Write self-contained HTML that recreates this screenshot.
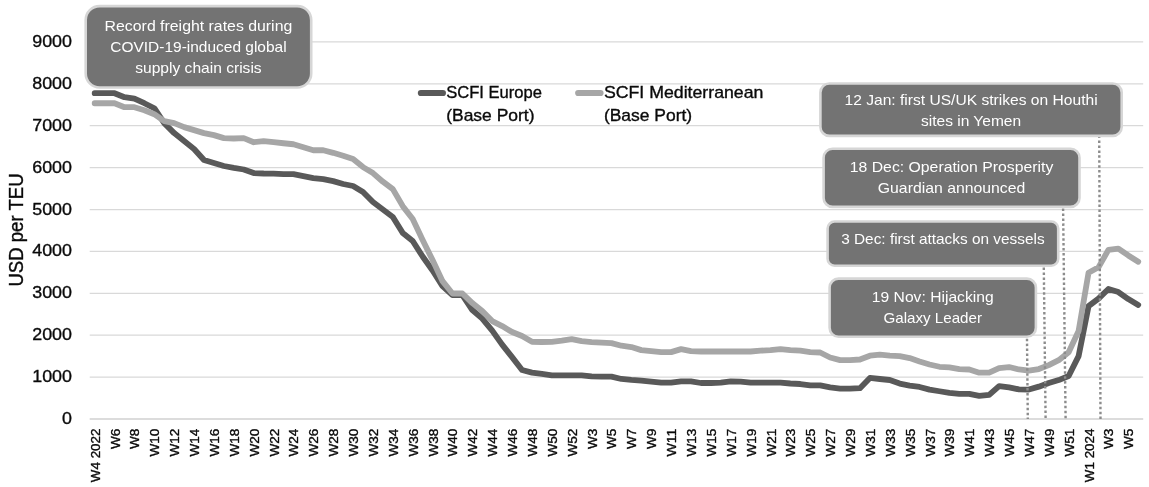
<!DOCTYPE html>
<html lang="en"><head><meta charset="utf-8"><title>SCFI freight rates</title>
<style>html,body{margin:0;padding:0;background:#fff}svg{display:block}text{font-family:"Liberation Sans",sans-serif;}.k{stroke:#0a0a0a;stroke-width:.35px}.w{stroke:#fff;stroke-width:.15px}</style></head><body>
<svg width="1149" height="487" viewBox="0 0 1149 487">
<rect width="1149" height="487" fill="#fff"/>
<line x1="89.7" x2="1143.2" y1="377.06" y2="377.06" stroke="#d9d9d9" stroke-width="1.25"/>
<line x1="89.7" x2="1143.2" y1="335.17" y2="335.17" stroke="#d9d9d9" stroke-width="1.25"/>
<line x1="89.7" x2="1143.2" y1="293.28" y2="293.28" stroke="#d9d9d9" stroke-width="1.25"/>
<line x1="89.7" x2="1143.2" y1="251.39" y2="251.39" stroke="#d9d9d9" stroke-width="1.25"/>
<line x1="89.7" x2="1143.2" y1="209.51" y2="209.51" stroke="#d9d9d9" stroke-width="1.25"/>
<line x1="89.7" x2="1143.2" y1="167.62" y2="167.62" stroke="#d9d9d9" stroke-width="1.25"/>
<line x1="89.7" x2="1143.2" y1="125.73" y2="125.73" stroke="#d9d9d9" stroke-width="1.25"/>
<line x1="89.7" x2="1143.2" y1="83.84" y2="83.84" stroke="#d9d9d9" stroke-width="1.25"/>
<line x1="89.7" x2="1143.2" y1="41.95" y2="41.95" stroke="#d9d9d9" stroke-width="1.25"/>
<line x1="89.7" x2="1143.2" y1="418.95" y2="418.95" stroke="#d0d0d0" stroke-width="1.6"/>
<text x="62.07" y="424.05" class="k" font-size="17.4" fill="#0a0a0a" textLength="9.93" lengthAdjust="spacingAndGlyphs">0</text>
<text x="32.26" y="382.16" class="k" font-size="17.4" fill="#0a0a0a" textLength="39.74" lengthAdjust="spacingAndGlyphs">1000</text>
<text x="32.26" y="340.27" class="k" font-size="17.4" fill="#0a0a0a" textLength="39.74" lengthAdjust="spacingAndGlyphs">2000</text>
<text x="32.26" y="298.38" class="k" font-size="17.4" fill="#0a0a0a" textLength="39.74" lengthAdjust="spacingAndGlyphs">3000</text>
<text x="32.26" y="256.49" class="k" font-size="17.4" fill="#0a0a0a" textLength="39.74" lengthAdjust="spacingAndGlyphs">4000</text>
<text x="32.26" y="214.61" class="k" font-size="17.4" fill="#0a0a0a" textLength="39.74" lengthAdjust="spacingAndGlyphs">5000</text>
<text x="32.26" y="172.72" class="k" font-size="17.4" fill="#0a0a0a" textLength="39.74" lengthAdjust="spacingAndGlyphs">6000</text>
<text x="32.26" y="130.83" class="k" font-size="17.4" fill="#0a0a0a" textLength="39.74" lengthAdjust="spacingAndGlyphs">7000</text>
<text x="32.26" y="88.94" class="k" font-size="17.4" fill="#0a0a0a" textLength="39.74" lengthAdjust="spacingAndGlyphs">8000</text>
<text x="32.26" y="47.05" class="k" font-size="17.4" fill="#0a0a0a" textLength="39.74" lengthAdjust="spacingAndGlyphs">9000</text>
<text transform="translate(23 286.6) rotate(-90)" class="k" font-size="19.3" fill="#0a0a0a" textLength="113.2" lengthAdjust="spacingAndGlyphs">USD per TEU</text>
<text transform="translate(99.67 482.15) rotate(-90)" class="k" font-size="13.2" fill="#0a0a0a" textLength="53.55" lengthAdjust="spacingAndGlyphs">W4 2022</text>
<text transform="translate(119.55 449.09) rotate(-90)" class="k" font-size="13.2" fill="#0a0a0a" textLength="20.49" lengthAdjust="spacingAndGlyphs">W6</text>
<text transform="translate(139.42 449.09) rotate(-90)" class="k" font-size="13.2" fill="#0a0a0a" textLength="20.49" lengthAdjust="spacingAndGlyphs">W8</text>
<text transform="translate(159.30 456.52) rotate(-90)" class="k" font-size="13.2" fill="#0a0a0a" textLength="27.92" lengthAdjust="spacingAndGlyphs">W10</text>
<text transform="translate(179.18 456.52) rotate(-90)" class="k" font-size="13.2" fill="#0a0a0a" textLength="27.92" lengthAdjust="spacingAndGlyphs">W12</text>
<text transform="translate(199.06 456.52) rotate(-90)" class="k" font-size="13.2" fill="#0a0a0a" textLength="27.92" lengthAdjust="spacingAndGlyphs">W14</text>
<text transform="translate(218.93 456.52) rotate(-90)" class="k" font-size="13.2" fill="#0a0a0a" textLength="27.92" lengthAdjust="spacingAndGlyphs">W16</text>
<text transform="translate(238.81 456.52) rotate(-90)" class="k" font-size="13.2" fill="#0a0a0a" textLength="27.92" lengthAdjust="spacingAndGlyphs">W18</text>
<text transform="translate(258.69 456.52) rotate(-90)" class="k" font-size="13.2" fill="#0a0a0a" textLength="27.92" lengthAdjust="spacingAndGlyphs">W20</text>
<text transform="translate(278.57 456.52) rotate(-90)" class="k" font-size="13.2" fill="#0a0a0a" textLength="27.92" lengthAdjust="spacingAndGlyphs">W22</text>
<text transform="translate(298.44 456.52) rotate(-90)" class="k" font-size="13.2" fill="#0a0a0a" textLength="27.92" lengthAdjust="spacingAndGlyphs">W24</text>
<text transform="translate(318.32 456.52) rotate(-90)" class="k" font-size="13.2" fill="#0a0a0a" textLength="27.92" lengthAdjust="spacingAndGlyphs">W26</text>
<text transform="translate(338.20 456.52) rotate(-90)" class="k" font-size="13.2" fill="#0a0a0a" textLength="27.92" lengthAdjust="spacingAndGlyphs">W28</text>
<text transform="translate(358.07 456.52) rotate(-90)" class="k" font-size="13.2" fill="#0a0a0a" textLength="27.92" lengthAdjust="spacingAndGlyphs">W30</text>
<text transform="translate(377.95 456.52) rotate(-90)" class="k" font-size="13.2" fill="#0a0a0a" textLength="27.92" lengthAdjust="spacingAndGlyphs">W32</text>
<text transform="translate(397.83 456.52) rotate(-90)" class="k" font-size="13.2" fill="#0a0a0a" textLength="27.92" lengthAdjust="spacingAndGlyphs">W34</text>
<text transform="translate(417.71 456.52) rotate(-90)" class="k" font-size="13.2" fill="#0a0a0a" textLength="27.92" lengthAdjust="spacingAndGlyphs">W36</text>
<text transform="translate(437.58 456.52) rotate(-90)" class="k" font-size="13.2" fill="#0a0a0a" textLength="27.92" lengthAdjust="spacingAndGlyphs">W38</text>
<text transform="translate(457.46 456.52) rotate(-90)" class="k" font-size="13.2" fill="#0a0a0a" textLength="27.92" lengthAdjust="spacingAndGlyphs">W40</text>
<text transform="translate(477.34 456.52) rotate(-90)" class="k" font-size="13.2" fill="#0a0a0a" textLength="27.92" lengthAdjust="spacingAndGlyphs">W42</text>
<text transform="translate(497.22 456.52) rotate(-90)" class="k" font-size="13.2" fill="#0a0a0a" textLength="27.92" lengthAdjust="spacingAndGlyphs">W44</text>
<text transform="translate(517.09 456.52) rotate(-90)" class="k" font-size="13.2" fill="#0a0a0a" textLength="27.92" lengthAdjust="spacingAndGlyphs">W46</text>
<text transform="translate(536.97 456.52) rotate(-90)" class="k" font-size="13.2" fill="#0a0a0a" textLength="27.92" lengthAdjust="spacingAndGlyphs">W48</text>
<text transform="translate(556.85 456.52) rotate(-90)" class="k" font-size="13.2" fill="#0a0a0a" textLength="27.92" lengthAdjust="spacingAndGlyphs">W50</text>
<text transform="translate(576.73 456.52) rotate(-90)" class="k" font-size="13.2" fill="#0a0a0a" textLength="27.92" lengthAdjust="spacingAndGlyphs">W52</text>
<text transform="translate(596.60 449.09) rotate(-90)" class="k" font-size="13.2" fill="#0a0a0a" textLength="20.49" lengthAdjust="spacingAndGlyphs">W3</text>
<text transform="translate(616.48 449.09) rotate(-90)" class="k" font-size="13.2" fill="#0a0a0a" textLength="20.49" lengthAdjust="spacingAndGlyphs">W5</text>
<text transform="translate(636.36 449.09) rotate(-90)" class="k" font-size="13.2" fill="#0a0a0a" textLength="20.49" lengthAdjust="spacingAndGlyphs">W7</text>
<text transform="translate(656.24 449.09) rotate(-90)" class="k" font-size="13.2" fill="#0a0a0a" textLength="20.49" lengthAdjust="spacingAndGlyphs">W9</text>
<text transform="translate(676.11 456.52) rotate(-90)" class="k" font-size="13.2" fill="#0a0a0a" textLength="27.92" lengthAdjust="spacingAndGlyphs">W11</text>
<text transform="translate(695.99 456.52) rotate(-90)" class="k" font-size="13.2" fill="#0a0a0a" textLength="27.92" lengthAdjust="spacingAndGlyphs">W13</text>
<text transform="translate(715.87 456.52) rotate(-90)" class="k" font-size="13.2" fill="#0a0a0a" textLength="27.92" lengthAdjust="spacingAndGlyphs">W15</text>
<text transform="translate(735.74 456.52) rotate(-90)" class="k" font-size="13.2" fill="#0a0a0a" textLength="27.92" lengthAdjust="spacingAndGlyphs">W17</text>
<text transform="translate(755.62 456.52) rotate(-90)" class="k" font-size="13.2" fill="#0a0a0a" textLength="27.92" lengthAdjust="spacingAndGlyphs">W19</text>
<text transform="translate(775.50 456.52) rotate(-90)" class="k" font-size="13.2" fill="#0a0a0a" textLength="27.92" lengthAdjust="spacingAndGlyphs">W21</text>
<text transform="translate(795.38 456.52) rotate(-90)" class="k" font-size="13.2" fill="#0a0a0a" textLength="27.92" lengthAdjust="spacingAndGlyphs">W23</text>
<text transform="translate(815.25 456.52) rotate(-90)" class="k" font-size="13.2" fill="#0a0a0a" textLength="27.92" lengthAdjust="spacingAndGlyphs">W25</text>
<text transform="translate(835.13 456.52) rotate(-90)" class="k" font-size="13.2" fill="#0a0a0a" textLength="27.92" lengthAdjust="spacingAndGlyphs">W27</text>
<text transform="translate(855.01 456.52) rotate(-90)" class="k" font-size="13.2" fill="#0a0a0a" textLength="27.92" lengthAdjust="spacingAndGlyphs">W29</text>
<text transform="translate(874.89 456.52) rotate(-90)" class="k" font-size="13.2" fill="#0a0a0a" textLength="27.92" lengthAdjust="spacingAndGlyphs">W31</text>
<text transform="translate(894.76 456.52) rotate(-90)" class="k" font-size="13.2" fill="#0a0a0a" textLength="27.92" lengthAdjust="spacingAndGlyphs">W33</text>
<text transform="translate(914.64 456.52) rotate(-90)" class="k" font-size="13.2" fill="#0a0a0a" textLength="27.92" lengthAdjust="spacingAndGlyphs">W35</text>
<text transform="translate(934.52 456.52) rotate(-90)" class="k" font-size="13.2" fill="#0a0a0a" textLength="27.92" lengthAdjust="spacingAndGlyphs">W37</text>
<text transform="translate(954.40 456.52) rotate(-90)" class="k" font-size="13.2" fill="#0a0a0a" textLength="27.92" lengthAdjust="spacingAndGlyphs">W39</text>
<text transform="translate(974.27 456.52) rotate(-90)" class="k" font-size="13.2" fill="#0a0a0a" textLength="27.92" lengthAdjust="spacingAndGlyphs">W41</text>
<text transform="translate(994.15 456.52) rotate(-90)" class="k" font-size="13.2" fill="#0a0a0a" textLength="27.92" lengthAdjust="spacingAndGlyphs">W43</text>
<text transform="translate(1014.03 456.52) rotate(-90)" class="k" font-size="13.2" fill="#0a0a0a" textLength="27.92" lengthAdjust="spacingAndGlyphs">W45</text>
<text transform="translate(1033.91 456.52) rotate(-90)" class="k" font-size="13.2" fill="#0a0a0a" textLength="27.92" lengthAdjust="spacingAndGlyphs">W47</text>
<text transform="translate(1053.78 456.52) rotate(-90)" class="k" font-size="13.2" fill="#0a0a0a" textLength="27.92" lengthAdjust="spacingAndGlyphs">W49</text>
<text transform="translate(1073.66 456.52) rotate(-90)" class="k" font-size="13.2" fill="#0a0a0a" textLength="27.92" lengthAdjust="spacingAndGlyphs">W51</text>
<text transform="translate(1093.54 482.15) rotate(-90)" class="k" font-size="13.2" fill="#0a0a0a" textLength="53.55" lengthAdjust="spacingAndGlyphs">W1 2024</text>
<text transform="translate(1113.41 449.09) rotate(-90)" class="k" font-size="13.2" fill="#0a0a0a" textLength="20.49" lengthAdjust="spacingAndGlyphs">W3</text>
<text transform="translate(1133.29 449.09) rotate(-90)" class="k" font-size="13.2" fill="#0a0a0a" textLength="20.49" lengthAdjust="spacingAndGlyphs">W5</text>
<path d="M94.67 93.22 L104.61 93.22 L114.55 93.22 L124.49 97.24 L134.42 98.67 L144.36 103.23 L154.30 108.22 L164.24 123.13 L174.18 133.10 L184.12 141.10 L194.06 149.06 L203.99 160.03 L213.93 163.01 L223.87 166.02 L233.81 167.91 L243.75 169.50 L253.69 173.10 L263.63 173.52 L273.57 173.69 L283.50 174.11 L293.44 174.11 L303.38 176.12 L313.32 178.13 L323.26 179.09 L333.20 181.10 L343.14 184.00 L353.07 186.01 L363.01 192.00 L372.95 202.01 L382.89 209.51 L392.83 217.05 L402.77 233.05 L412.71 241.01 L422.65 256.55 L432.58 270.45 L442.52 286.08 L452.46 295.08 L462.40 295.08 L472.34 310.04 L482.28 318.63 L492.22 330.56 L502.16 344.60 L512.09 357.08 L522.03 369.98 L531.97 372.58 L541.91 373.96 L551.85 375.34 L561.79 375.34 L571.73 375.34 L581.66 375.34 L591.60 376.35 L601.54 376.56 L611.48 376.56 L621.42 378.95 L631.36 379.95 L641.30 380.62 L651.24 381.63 L661.17 382.63 L671.11 382.63 L681.05 381.42 L690.99 381.42 L700.93 383.01 L710.87 383.01 L720.81 382.63 L730.74 381.42 L740.68 381.63 L750.62 382.63 L760.56 382.63 L770.50 382.63 L780.44 382.63 L790.38 383.51 L800.32 384.01 L810.25 385.40 L820.19 385.40 L830.13 387.41 L840.07 388.58 L850.01 388.58 L859.95 388.16 L869.89 377.98 L879.83 378.99 L889.76 379.99 L899.70 383.60 L909.64 385.56 L919.58 386.99 L929.52 389.59 L939.46 391.26 L949.40 392.94 L959.33 393.94 L969.27 393.94 L979.21 395.95 L989.15 394.95 L999.09 386.07 L1009.03 387.45 L1018.97 389.38 L1028.91 389.59 L1038.84 386.65 L1048.78 383.05 L1058.72 380.08 L1068.66 376.06 L1078.60 356.16 L1088.54 306.10 L1098.48 298.69 L1108.41 288.97 L1118.35 292.03 L1128.29 299.11 L1138.23 304.89" fill="none" stroke="#595959" stroke-width="5.8" stroke-linejoin="round" stroke-linecap="round"/>
<path d="M94.67 103.23 L104.61 103.23 L114.55 103.23 L124.49 107.21 L134.42 107.21 L144.36 110.23 L154.30 114.21 L164.24 121.12 L174.18 123.13 L184.12 127.11 L194.06 130.13 L203.99 133.10 L213.93 135.11 L223.87 138.13 L233.81 138.50 L243.75 138.17 L253.69 142.23 L263.63 141.23 L273.57 142.23 L283.50 143.24 L293.44 144.24 L303.38 147.22 L313.32 150.23 L323.26 150.23 L333.20 152.83 L343.14 155.80 L353.07 159.11 L363.01 167.11 L372.95 173.10 L382.89 181.69 L392.83 189.11 L402.77 206.15 L412.71 219.10 L422.65 240.04 L432.58 260.07 L442.52 281.14 L452.46 293.49 L462.40 293.49 L472.34 303.09 L482.28 311.00 L492.22 321.06 L502.16 326.04 L512.09 332.03 L522.03 336.01 L531.97 341.79 L541.91 342.00 L551.85 341.87 L561.79 340.62 L571.73 339.11 L581.66 341.12 L591.60 342.13 L601.54 342.71 L611.48 343.09 L621.42 345.69 L631.36 347.07 L641.30 350.13 L651.24 351.13 L661.17 352.10 L671.11 352.10 L681.05 349.12 L690.99 351.13 L700.93 351.51 L710.87 351.51 L720.81 351.51 L730.74 351.51 L740.68 351.51 L750.62 351.51 L760.56 350.71 L770.50 350.13 L780.44 349.12 L790.38 350.13 L800.32 350.71 L810.25 352.10 L820.19 352.51 L830.13 357.50 L840.07 360.10 L850.01 360.10 L859.95 359.51 L869.89 355.70 L879.83 354.69 L889.76 355.70 L899.70 356.12 L909.64 358.09 L919.58 361.48 L929.52 364.45 L939.46 366.80 L949.40 367.47 L959.33 369.06 L969.27 369.48 L979.21 372.66 L989.15 372.66 L999.09 368.06 L1009.03 367.05 L1018.97 369.48 L1028.91 370.65 L1038.84 369.06 L1048.78 365.08 L1058.72 360.18 L1068.66 352.18 L1078.60 330.98 L1088.54 272.72 L1098.48 267.31 L1108.41 249.84 L1118.35 248.59 L1128.29 255.46 L1138.23 261.74" fill="none" stroke="#a6a6a6" stroke-width="5.8" stroke-linejoin="round" stroke-linecap="round"/>
<line x1="420.9" x2="442.9" y1="93" y2="93" stroke="#595959" stroke-width="6.2" stroke-linecap="round"/>
<line x1="578.2" x2="600.5" y1="93" y2="93" stroke="#a6a6a6" stroke-width="6.2" stroke-linecap="round"/>
<text x="446.2" y="97.5" class="k" font-size="17.0" fill="#0a0a0a" textLength="95.75" lengthAdjust="spacingAndGlyphs">SCFI Europe</text>
<text x="446.2" y="121.4" class="k" font-size="17.0" fill="#0a0a0a" textLength="88.30" lengthAdjust="spacingAndGlyphs">(Base Port)</text>
<text x="603.9" y="97.5" class="k" font-size="17.0" fill="#0a0a0a" textLength="159.53" lengthAdjust="spacingAndGlyphs">SCFI Mediterranean</text>
<text x="603.9" y="121.4" class="k" font-size="17.0" fill="#0a0a0a" textLength="88.30" lengthAdjust="spacingAndGlyphs">(Base Port)</text>
<line x1="1027.0" x2="1027.8" y1="338.7" y2="418.95" stroke="#8c8c8c" stroke-width="2.4" stroke-dasharray="2.5 2.43"/>
<line x1="1043.8" x2="1045.6" y1="267.6" y2="418.95" stroke="#8c8c8c" stroke-width="2.4" stroke-dasharray="2.5 2.43"/>
<line x1="1063.1" x2="1065.6" y1="208.6" y2="418.95" stroke="#8c8c8c" stroke-width="2.4" stroke-dasharray="2.5 2.43"/>
<line x1="1099.2" x2="1100.5" y1="135.6" y2="418.95" stroke="#8c8c8c" stroke-width="2.4" stroke-dasharray="2.5 2.43"/>
<rect x="85.7" y="6.1" width="225.50" height="81.40" rx="14" ry="14" fill="#737373" stroke="#d6d6d6" stroke-width="2.6"/>
<text x="104.61" y="31.1" font-size="15.0" fill="#fff" textLength="187.67" lengthAdjust="spacingAndGlyphs">Record freight rates during</text>
<text x="110.29" y="52.1" font-size="15.0" fill="#fff" textLength="176.33" lengthAdjust="spacingAndGlyphs">COVID-19-induced global</text>
<text x="135.22" y="72.8" font-size="15.0" fill="#fff" textLength="126.45" lengthAdjust="spacingAndGlyphs">supply chain crisis</text>
<rect x="820.4" y="83.5" width="301.30" height="52.40" rx="9" ry="9" fill="#737373" stroke="#d6d6d6" stroke-width="2.6"/>
<text x="844.47" y="105.3" font-size="15.0" fill="#fff" textLength="253.16" lengthAdjust="spacingAndGlyphs">12 Jan: first US/UK strikes on Houthi</text>
<text x="921.00" y="126.4" font-size="15.0" fill="#fff" textLength="100.09" lengthAdjust="spacingAndGlyphs">sites in Yemen</text>
<rect x="823.6" y="148.7" width="255.90" height="58.20" rx="9" ry="9" fill="#737373" stroke="#d6d6d6" stroke-width="2.6"/>
<text x="849.78" y="171.8" font-size="15.0" fill="#fff" textLength="203.54" lengthAdjust="spacingAndGlyphs">18 Dec: Operation Prosperity</text>
<text x="877.81" y="193.0" font-size="15.0" fill="#fff" textLength="147.48" lengthAdjust="spacingAndGlyphs">Guardian announced</text>
<rect x="827.6" y="221.5" width="230.60" height="44.20" rx="7" ry="7" fill="#737373" stroke="#d6d6d6" stroke-width="2.6"/>
<text x="841.18" y="243.6" font-size="15.0" fill="#fff" textLength="203.44" lengthAdjust="spacingAndGlyphs">3 Dec: first attacks on vessels</text>
<rect x="829.6" y="278.6" width="206.30" height="58.10" rx="9" ry="9" fill="#737373" stroke="#d6d6d6" stroke-width="2.6"/>
<text x="871.85" y="301.7" font-size="15.0" fill="#fff" textLength="121.79" lengthAdjust="spacingAndGlyphs">19 Nov: Hijacking</text>
<text x="883.45" y="322.6" font-size="15.0" fill="#fff" textLength="98.60" lengthAdjust="spacingAndGlyphs">Galaxy Leader</text>
</svg></body></html>
